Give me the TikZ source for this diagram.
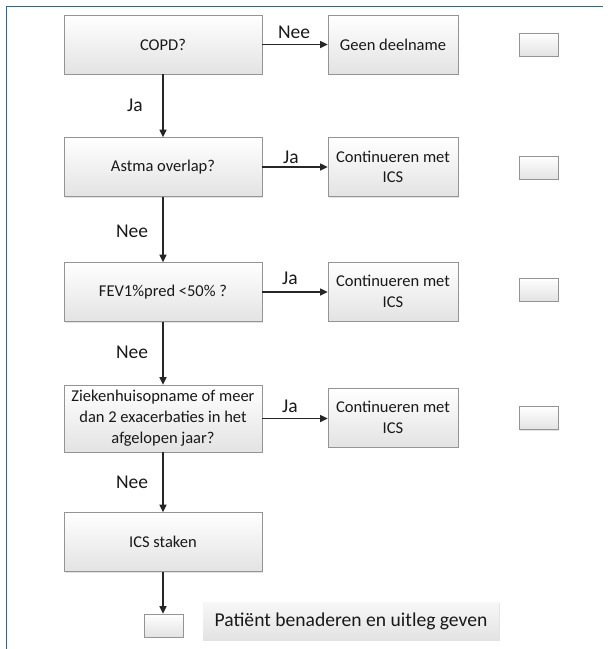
\documentclass[tikz,border=0pt]{standalone}
\usepackage{fontspec}
\setmainfont{Carlito}
\usetikzlibrary{arrows.meta,shadows}
\begin{document}
\begin{tikzpicture}[x=1pt, y=-1pt, box/.style={draw=fcEdge, line width=0.7pt, top color=white, bottom color=fcFill, drop shadow={shadow xshift=1.3pt, shadow yshift=-1.3pt, opacity=0.22}, minimum width=198pt, minimum height=59pt, inner sep=2pt, align=center, font=\fontsize{16.5}{20.5}\selectfont, text=fcInk}, sidebox/.style={box, minimum width=130pt}, tick/.style={box, minimum width=39pt, minimum height=23pt}, arr/.style={-{Triangle[length=7.5pt, width=7pt]}, line width=1.2pt, fcLine}, lbl/.style={font=\fontsize{19.5}{22}\selectfont, text=fcInk}, frame/.style={line width=1.4pt, fcBlue}]
\definecolor{fcInk}{rgb}{0.10,0.10,0.10}
\definecolor{fcLine}{rgb}{0.15,0.15,0.15}
\definecolor{fcEdge}{rgb}{0.58,0.58,0.58}
\definecolor{fcFill}{rgb}{0.89,0.89,0.89}
\definecolor{fcBlue}{rgb}{0.12,0.42,0.70}
\useasboundingbox (0,0) rectangle (612,649);
\draw[frame] (6.5,649) -- (6.5,6.5) -- (603,6.5);
% left column
\node[box] (copd) at (163,44.5) {COPD?};
\node[box] (astma) at (163,167) {Astma overlap?};
\node[box] (fev) at (163,292) {FEV1\%pred <50\% ?};
\node[box, minimum height=67pt, font=\fontsize{16.5}{21}\selectfont] (zieken) at (163,418.5) {Ziekenhuisopname of meer\\ dan 2 exacerbaties in het\\ afgelopen jaar?};
\node[box] (staken) at (163,542) {ICS staken};
% right column
\node[sidebox] (geen) at (393,44.5) {Geen deelname};
\node[sidebox] (cont1) at (393,167) {Continueren met\\ ICS};
\node[sidebox] (cont2) at (393,291.5) {Continueren met\\ ICS};
\node[sidebox] (cont3) at (393,417.5) {Continueren met\\ ICS};
\node[tick] (tick1) at (538.5,44.5) {};
\node[tick] (tick2) at (538.5,167.5) {};
\node[tick] (tick3) at (538.5,289.5) {};
\node[tick] (tick4) at (538.5,418) {};
\node[tick] (tickend) at (163.5,625.5) {};
\node[draw=none, top color=black!3, bottom color=black!11, drop shadow={shadow xshift=1.3pt, shadow yshift=-1.3pt, opacity=0.22}, minimum width=296pt, minimum height=38pt, font=\fontsize{19.6}{22}\selectfont, text=fcInk] (patient) at (351,621) {Patiënt benaderen en uitleg geven};
% connectors
\draw[arr] (copd) -- (geen);
\draw[arr] (astma) -- (cont1);
\draw[arr] (fev.east) -- (cont2.west |- fev.east);
\draw[arr] (zieken.east) -- (cont3.west |- zieken.east);
\draw[arr] (copd) -- (astma);
\draw[arr] (astma) -- (fev);
\draw[arr] (fev) -- (zieken);
\draw[arr] (zieken) -- (staken);
\draw[arr] (staken.south) -- (tickend.north -| staken.south);
% answers
\node[lbl] (nee0) at (294,32) {Nee};
\node[lbl] (ja0) at (135,105) {Ja};
\node[lbl] (ja1) at (291,157) {Ja};
\node[lbl] (nee1) at (132,231) {Nee};
\node[lbl] (ja2) at (290,278) {Ja};
\node[lbl] (nee2) at (132,352) {Nee};
\node[lbl] (ja3) at (290,406) {Ja};
\node[lbl] (nee3) at (132,482) {Nee};
\end{tikzpicture}
\end{document}
